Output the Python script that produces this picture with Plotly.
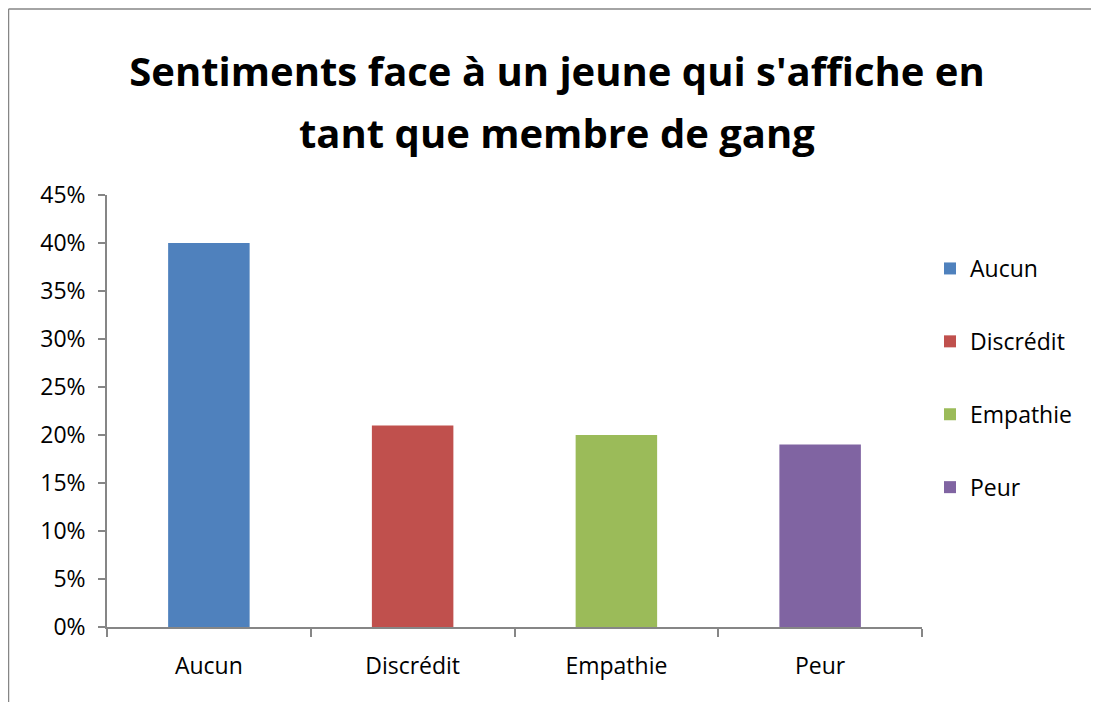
import plotly.graph_objects as go

categories = ["Aucun", "Discrédit", "Empathie", "Peur"]
values = [40, 21, 20, 19]
colors = ["#4F81BD", "#C0504D", "#9BBB59", "#8064A2"]
y_ticks = [0, 5, 10, 15, 20, 25, 30, 35, 40, 45]
title_line1 = "Sentiments face à un jeune qui s'affiche en"
title_line2 = "tant que membre de gang"

OFF = 8  # page body margin
W, H = 1099 - OFF, 702 - OFF
# plot area in screen pixels
PX0, PX1, PY0, PY1 = 107, 922, 195, 627
L = PX0 - OFF
T = PY0 - OFF
R = W - (PX1 - OFF)
B = H - (PY1 - OFF)
pw, ph = PX1 - PX0, PY1 - PY0

def px_x(p):
    return (p - PX0) / pw

def px_y(p):
    return (PY1 - p) / ph

fig = go.Figure()
for i, (c, v, col) in enumerate(zip(categories, values, colors)):
    fig.add_trace(go.Bar(x=[c], y=[v], name=c, marker=dict(color=col, line=dict(width=0)),
                         width=0.4, legendgroup=f"g{i}"))

font_family = "Open Sans, Calibri, sans-serif"
title_font = dict(family=font_family, size=40, color="black")
fig.update_layout(
    width=W, height=H,
    margin=dict(l=L, r=R, t=T, b=B),
    paper_bgcolor="white", plot_bgcolor="white",
    barmode="overlay",
    font=dict(family=font_family, size=23, color="black"),
    title=dict(text="<b>" + title_line1 + "</b>", x=(557 - OFF) / W, xref="container", xanchor="center",
               y=1 - (72 - OFF) / H, yref="container", yanchor="middle", font=title_font),
    legend=dict(x=px_x(930), y=px_y(378), xanchor="left", yanchor="middle",
                tracegroupgap=40, font=dict(size=23), itemwidth=30, bgcolor="rgba(0,0,0,0)"),
    showlegend=True,
)
fig.add_annotation(text="<b>" + title_line2 + "</b>", xref="paper", yref="paper",
                   x=px_x(557), y=px_y(133), xanchor="center", yanchor="middle",
                   showarrow=False, font=title_font)
fig.update_xaxes(categoryorder="array", categoryarray=categories,
                 showline=True, linecolor="#868686", linewidth=1.5,
                 ticks="outside", tickson="boundaries", ticklen=8, tickcolor="#868686", tickwidth=1.5,
                 showgrid=False, zeroline=False, ticklabelstandoff=18)
fig.update_yaxes(range=[0, 45], tickvals=y_ticks, ticktext=[f"{t}%" for t in y_ticks],
                 showline=True, linecolor="#868686", linewidth=1.5,
                 ticks="outside", ticklen=7, tickcolor="#868686", tickwidth=1.5,
                 showgrid=False, zeroline=False, ticklabelstandoff=8)

fig.add_shape(type="line", xref="paper", yref="paper", x0=px_x(8.5), x1=px_x(1120),
              y0=px_y(9), y1=px_y(9), line=dict(color="#868686", width=1.5))
fig.add_shape(type="line", xref="paper", yref="paper", x0=px_x(8.5), x1=px_x(8.5),
              y0=px_y(9), y1=px_y(720), line=dict(color="#868686", width=1.5))

fig.write_html("out.html", config={"displayModeBar": False})
